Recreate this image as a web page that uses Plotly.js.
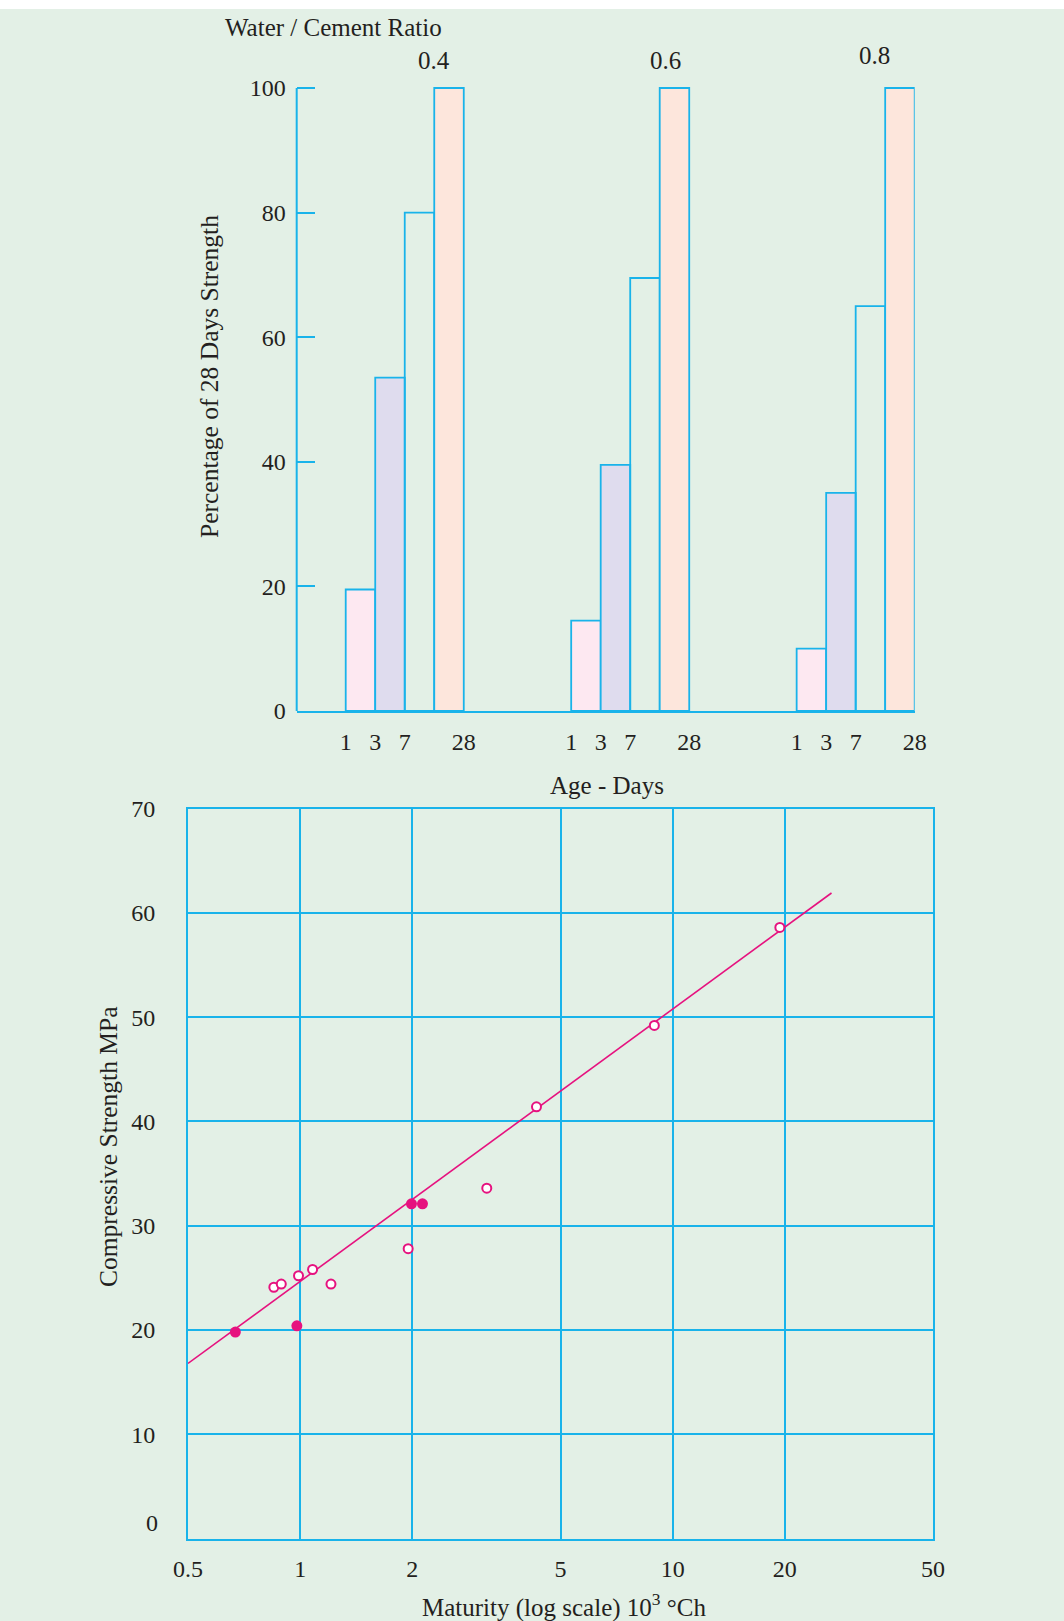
<!DOCTYPE html>
<html>
<head>
<meta charset="utf-8">
<script src="https://cdn.plot.ly/plotly-3.0.1.min.js"></script>
<style>
  html, body { margin: 0; padding: 0; background: #ffffff; overflow: hidden; }
  #chart { width: 1064px; height: 1621px; }
</style>
</head>
<body>
<div id="chart"></div>
<script>
// ---------- DATA ----------
// Top chart: percentage of 28-day strength, by age (days) for each water/cement ratio
const ages = ['1', '3', '7', '28'];
const wcRatios = ['0.4', '0.6', '0.8'];
const pctWC04 = [19.5, 53.5, 80, 100];
const pctWC06 = [14.5, 39.5, 69.5, 100];
const pctWC08 = [10, 35, 65, 100];
const yTicksTop = [0, 20, 40, 60, 80, 100];

// Bottom chart: compressive strength vs maturity (log scale)
const maturityTicks = [0.5, 1, 2, 5, 10, 20, 50];
const strengthTicks = [10, 20, 30, 40, 50, 60, 70];
const openMaturity = [0.85, 0.89, 0.99, 1.08, 1.21, 1.95, 3.17, 4.31, 8.93, 19.4];
const openStrength = [24.1, 24.4, 25.2, 25.8, 24.4, 27.8, 33.6, 41.4, 49.2, 58.6];
const filledMaturity = [0.67, 0.98, 1.99, 2.13];
const filledStrength = [19.8, 20.4, 32.1, 32.1];
const fitMaturity = [0.5, 26.7];
const fitStrength = [16.8, 61.9];

// ---------- STYLE ----------
const W = 1064, H = 1621;
const CYAN = '#19b3ea';
const MAG = '#e6127f';
const BG = '#e3f0e6';
const TXT = '#231f20';
const FONT = 'Liberation Serif, Times New Roman, serif';
const barFills = ['#fde8f1', '#dfdcee', 'rgba(0,0,0,0)', '#fde6dc'];
const GAP = 7.64; // layout spacing between ratio groups (in bar widths)

const px = v => v / W;
const py = v => 1 - v / H;

const groups = [pctWC04, pctWC06, pctWC08];
const traces = [];
ages.forEach((age, i) => {
  traces.push({
    type: 'bar',
    x: groups.map((g, gi) => gi * GAP + i + 0.5),
    y: groups.map(g => g[i]),
    width: groups.map(() => 1),
    xaxis: 'x', yaxis: 'y',
    marker: { color: barFills[i], line: { color: CYAN, width: 1.8 } },
    name: age + ' days',
    hoverinfo: 'x+y',
    showlegend: false
  });
});

// tick positions: bar edges within each group
const tickEdge = [0, 1, 2, 4];
const topTickVals = [], topTickText = [];
wcRatios.forEach((r, gi) => {
  ages.forEach((a, i) => { topTickVals.push(gi * GAP + tickEdge[i]); topTickText.push(a); });
});

traces.push({
  type: 'scatter', mode: 'lines', x: fitMaturity, y: fitStrength,
  xaxis: 'x2', yaxis: 'y2', line: { color: MAG, width: 1.6 }, showlegend: false
});
traces.push({
  type: 'scatter', mode: 'markers', x: openMaturity, y: openStrength,
  xaxis: 'x2', yaxis: 'y2',
  marker: { symbol: 'circle', size: 9, color: '#ffffff', line: { color: MAG, width: 2 } },
  showlegend: false
});
traces.push({
  type: 'scatter', mode: 'markers', x: filledMaturity, y: filledStrength,
  xaxis: 'x2', yaxis: 'y2',
  marker: { symbol: 'circle', size: 11, color: MAG, line: { width: 0 } },
  showlegend: false
});

const tickFont = { family: FONT, size: 24, color: TXT };

const annotations = [
  { text: 'Water / Cement Ratio', x: px(333), y: py(27) },
  { text: wcRatios[0], x: 2.98, xref: 'x', y: py(61) },
  { text: wcRatios[1], x: 10.85, xref: 'x', y: py(61) },
  { text: wcRatios[2], x: 17.91, xref: 'x', y: py(56) },
  { text: 'Percentage of 28 Days Strength', x: px(210), y: py(377), textangle: -90, size: 25.5 },
  { text: 'Age - Days', x: px(607), y: py(785) },
  { text: 'Compressive Strength MPa', x: px(108), y: py(1147), textangle: -90, size: 25.5 },
  { text: 'Maturity (log scale) 10<sup>3</sup> °Ch', x: px(564), y: py(1605) },
  { text: '0', x: px(160), xanchor: 'right', y: 0, yref: 'y2', yshift: 16, isTick: true }
].map(a => ({
  text: a.text,
  x: a.x, y: a.y,
  xref: a.xref || 'paper', yref: a.yref || 'paper',
  xanchor: a.xanchor || 'center', yanchor: 'middle',
  yshift: a.yshift || 0,
  textangle: a.textangle || 0,
  showarrow: false,
  font: a.isTick ? tickFont : { family: FONT, size: a.size || 25, color: TXT }
}));

const layout = {
  width: W, height: H,
  margin: { l: 0, r: 0, t: 0, b: 0, pad: 0 },
  paper_bgcolor: BG,
  plot_bgcolor: 'rgba(0,0,0,0)',
  barmode: 'overlay',
  showlegend: false,
  font: { family: FONT, color: TXT },
  xaxis: {
    domain: [px(296.7), px(914.7)],
    range: [-1.661, 2 * GAP + 4],
    anchor: 'y',
    tickmode: 'array', tickvals: topTickVals, ticktext: topTickText,
    ticks: '', showgrid: false, zeroline: false,
    showline: true, linecolor: CYAN, linewidth: 2,
    tickfont: tickFont, ticklabelstandoff: 8, automargin: false
  },
  yaxis: {
    domain: [py(711), py(69.3)],
    range: [0, 103],
    anchor: 'x',
    tickmode: 'array', tickvals: yTicksTop,
    ticks: 'inside', ticklen: 18, tickwidth: 2, tickcolor: CYAN,
    showgrid: false, zeroline: false, showline: false,
    tickfont: tickFont, ticklabelstandoff: 10, automargin: false
  },
  xaxis2: {
    domain: [px(188), px(933)],
    type: 'log',
    range: [Math.log10(0.5), Math.log10(50)],
    anchor: 'y2',
    tickmode: 'array', tickvals: maturityTicks, ticktext: maturityTicks.map(String),
    ticks: '', showgrid: true, gridcolor: CYAN, gridwidth: 2,
    zeroline: false, showline: true, mirror: true, linecolor: CYAN, linewidth: 2,
    tickfont: tickFont, ticklabelstandoff: 8, automargin: false
  },
  yaxis2: {
    domain: [py(1538.6), py(808.5)],
    range: [0, 70],
    anchor: 'x2',
    tickmode: 'array', tickvals: strengthTicks, ticktext: strengthTicks.map(String),
    ticks: '', showgrid: true, gridcolor: CYAN, gridwidth: 2,
    zeroline: false, showline: true, mirror: true, linecolor: CYAN, linewidth: 2,
    tickfont: tickFont, ticklabelstandoff: 26, automargin: false
  },
  shapes: [
    { type: 'rect', xref: 'paper', yref: 'paper', x0: 0, x1: 1, y0: py(9), y1: 1,
      fillcolor: '#ffffff', line: { width: 0 }, layer: 'below' },
    { type: 'line', xref: 'x domain', yref: 'y', x0: 0, x1: 0, y0: 0, y1: 100,
      line: { color: CYAN, width: 2 } }
  ],
  annotations: annotations
};

Plotly.newPlot('chart', traces, layout, { displayModeBar: false, staticPlot: true });
</script>
</body>
</html>
